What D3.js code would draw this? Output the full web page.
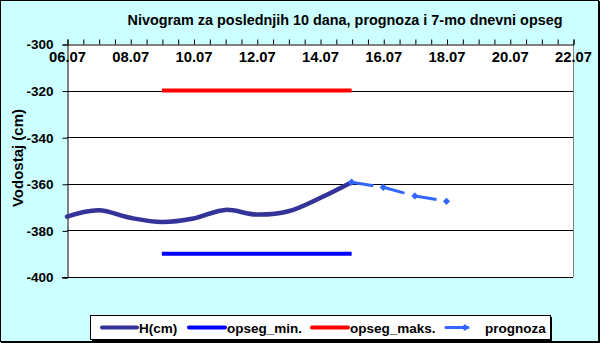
<!DOCTYPE html>
<html>
<head>
<meta charset="utf-8">
<script src="https://cdn.jsdelivr.net/npm/d3@7"></script>
<style>
  html, body { margin: 0; padding: 0; background: #ccffff; }
  svg { display: block; font-family: Arial, "Liberation Sans", sans-serif; }
  .tick text { font-weight: bold; }
</style>
</head>
<body>
<svg id="chart" width="600" height="343"></svg>
<script>
// Water level (cm) for the last 10 days
const hDates = ["06.07", "07.07", "08.07", "09.07", "10.07", "11.07", "12.07", "13.07", "14.07", "15.07"];
const hValues = [-374.1, -371.4, -374.6, -376.4, -374.9, -371.2, -373.2, -371.8, -366.1, -359.3];

// 7-day range bounds
const rangeDates = ["09.07", "15.07"];
const opsegMin = [-390, -390];
const opsegMaks = [-320, -320];

// Forecast
const prognozaDates = ["15.07", "16.07", "17.07", "18.07"];
const prognozaValues = [-359.3, -361.5, -365.2, -367.5];

// Axis tick labels
const xTickLabels = ["06.07", "08.07", "10.07", "12.07", "14.07", "16.07", "18.07", "20.07", "22.07"];
const yTicks = [-300, -320, -340, -360, -380, -400];

const parse = d3.timeParse("%d.%m");
const fmt = d3.timeFormat("%d.%m");

const svg = d3.select("#chart");
const W = 600, H = 343;
const plot = { left: 67, right: 573, top: 44, bottom: 277 };

// Background and frame
svg.append("rect").attr("x", 0.5).attr("y", 0.5).attr("width", W - 2).attr("height", H - 2)
  .attr("fill", "#ccffff").attr("stroke", "#000").attr("stroke-width", 1);
svg.append("line").attr("x1", 1).attr("x2", W).attr("y1", H - 0.5).attr("y2", H - 0.5).attr("stroke", "#000");
svg.append("line").attr("x1", W - 0.5).attr("x2", W - 0.5).attr("y1", 1).attr("y2", H).attr("stroke", "#000");

const x = d3.scaleTime()
  .domain([parse(xTickLabels[0]), parse(xTickLabels[xTickLabels.length - 1])])
  .range([plot.left, plot.right]);
const y = d3.scaleLinear()
  .domain([d3.min(yTicks), d3.max(yTicks)])
  .range([plot.bottom, plot.top]);

// Plot area
svg.append("rect")
  .attr("x", plot.left).attr("y", plot.top)
  .attr("width", plot.right - plot.left).attr("height", plot.bottom - plot.top)
  .attr("fill", "#fff");

// Horizontal gridlines
svg.append("g").selectAll("line")
  .data(yTicks.filter(v => v !== d3.min(yTicks) && v !== d3.max(yTicks)))
  .join("line")
  .attr("x1", plot.left).attr("x2", plot.right)
  .attr("y1", d => Math.round(y(d)) + 0.5).attr("y2", d => Math.round(y(d)) + 0.5)
  .attr("stroke", "#000").attr("stroke-width", 1);

// Right and bottom frame of the plot area
svg.append("line").attr("x1", plot.right + 0.5).attr("x2", plot.right + 0.5)
  .attr("y1", plot.top).attr("y2", plot.bottom).attr("stroke", "#808080");
svg.append("line").attr("x1", plot.left - 5).attr("x2", plot.right)
  .attr("y1", plot.bottom + 0.5).attr("y2", plot.bottom + 0.5).attr("stroke", "#000");

// Y axis
const yAxis = svg.append("g")
  .attr("transform", `translate(${plot.left + 0.5},0.5)`)
  .call(d3.axisLeft(y).tickValues(yTicks).tickSize(5).tickPadding(9).tickFormat(d3.format("d")));
yAxis.select(".domain").attr("stroke", "#000");
yAxis.selectAll(".tick line").attr("stroke", "#000");
yAxis.selectAll(".tick text").attr("font-size", 13.5).attr("fill", "#000")
  .text(d => d < 0 ? "-" + Math.abs(d) : d);

// Top axis: half-day tick marks
const halfDays = d3.timeHour.every(12).range(x.domain()[0], d3.timeHour.offset(x.domain()[1], 1));
const xAxisTop = svg.append("g")
  .attr("transform", `translate(0.5,${plot.top + 0.5})`)
  .call(d3.axisTop(x).tickValues(halfDays).tickSize(5).tickFormat(""));
xAxisTop.select(".domain").attr("stroke", "#000");
xAxisTop.selectAll(".tick line").attr("stroke", "#000");

// Date labels under the top axis
const xLabels = svg.append("g")
  .attr("transform", `translate(0,${plot.top})`)
  .call(d3.axisBottom(x).tickValues(xTickLabels.map(parse)).tickSize(0).tickPadding(7).tickFormat(fmt));
xLabels.select(".domain").remove();
xLabels.selectAll(".tick text").attr("font-size", 14.8).attr("fill", "#000");

// Range lines
const line = d3.line().x(d => x(d[0])).y(d => y(d[1]));
svg.append("path")
  .datum(rangeDates.map((d, i) => [parse(d), opsegMin[i]]))
  .attr("d", line).attr("fill", "none").attr("stroke", "#0000ff").attr("stroke-width", 4);
svg.append("path")
  .datum(rangeDates.map((d, i) => [parse(d), opsegMaks[i]]))
  .attr("d", line).attr("fill", "none").attr("stroke", "#ff0000").attr("stroke-width", 4);

// Measured level, smoothed
const smooth = d3.line().x(d => x(d[0])).y(d => y(d[1])).curve(d3.curveCatmullRom.alpha(0.5));
svg.append("path")
  .datum(hDates.map((d, i) => [parse(d), hValues[i]]))
  .attr("d", smooth).attr("fill", "none").attr("stroke", "#333399").attr("stroke-width", 4.5)
  .attr("stroke-linecap", "round");

// Forecast: dashed segments with diamond markers
const progPts = prognozaDates.map((d, i) => [parse(d), prognozaValues[i]]);
const progColor = "#3366ff";
svg.append("g").selectAll("path")
  .data(d3.pairs(progPts))
  .join("path")
  .attr("d", d => line(d))
  .attr("fill", "none").attr("stroke", progColor).attr("stroke-width", 3)
  .attr("stroke-dasharray", "22,60");
// Square marker turned 45 degrees, as in spreadsheet diamond markers
const diamond = d3.symbol().type(d3.symbolSquare).size(26);
svg.append("g").selectAll("path")
  .data(progPts)
  .join("path")
  .attr("transform", d => `translate(${x(d[0])},${y(d[1])}) rotate(45)`)
  .attr("d", diamond).attr("fill", progColor);

// Y axis title
svg.append("text")
  .attr("transform", "translate(23,158) rotate(-90)")
  .attr("text-anchor", "middle")
  .attr("font-size", 15).attr("font-weight", "bold")
  .text("Vodostaj (cm)");

// Chart title
svg.append("text")
  .attr("x", 345).attr("y", 25)
  .attr("text-anchor", "middle")
  .attr("font-size", 14.4).attr("font-weight", "bold")
  .text("Nivogram za poslednjih 10 dana, prognoza i 7-mo dnevni opseg");

// Legend
const legend = svg.append("g");
const lg = { x: 90, y: 315, w: 460, h: 24 };
legend.append("rect").attr("x", lg.x + 2).attr("y", lg.y + 2).attr("width", lg.w).attr("height", lg.h).attr("fill", "#000");
legend.append("rect").attr("x", lg.x + 0.5).attr("y", lg.y + 0.5).attr("width", lg.w).attr("height", lg.h)
  .attr("fill", "#fff").attr("stroke", "#000");

const legendItems = [
  { label: "H(cm)", color: "#333399", x1: 102, x2: 137, tx: 139, marker: false },
  { label: "opseg_min.", color: "#0000ff", x1: 189, x2: 225, tx: 227, marker: false },
  { label: "opseg_maks.", color: "#ff0000", x1: 312, x2: 348, tx: 350, marker: false },
  { label: "prognoza", color: progColor, x1: 446, x2: 468, tx: 485, marker: true }
];
const ly = 327.5;
legendItems.forEach(it => {
  legend.append("line").attr("x1", it.x1).attr("x2", it.x2).attr("y1", ly).attr("y2", ly)
    .attr("stroke", it.color).attr("stroke-width", it.marker ? 3 : 4).attr("stroke-linecap", "round");
  if (it.marker) {
    legend.append("path").attr("transform", `translate(${it.x2 - 3},${ly}) rotate(45)`)
      .attr("d", diamond).attr("fill", it.color);
  }
  legend.append("text").attr("x", it.tx).attr("y", ly + 5)
    .attr("font-size", 13.5).attr("font-weight", "bold").text(it.label);
});
</script>
</body>
</html>
